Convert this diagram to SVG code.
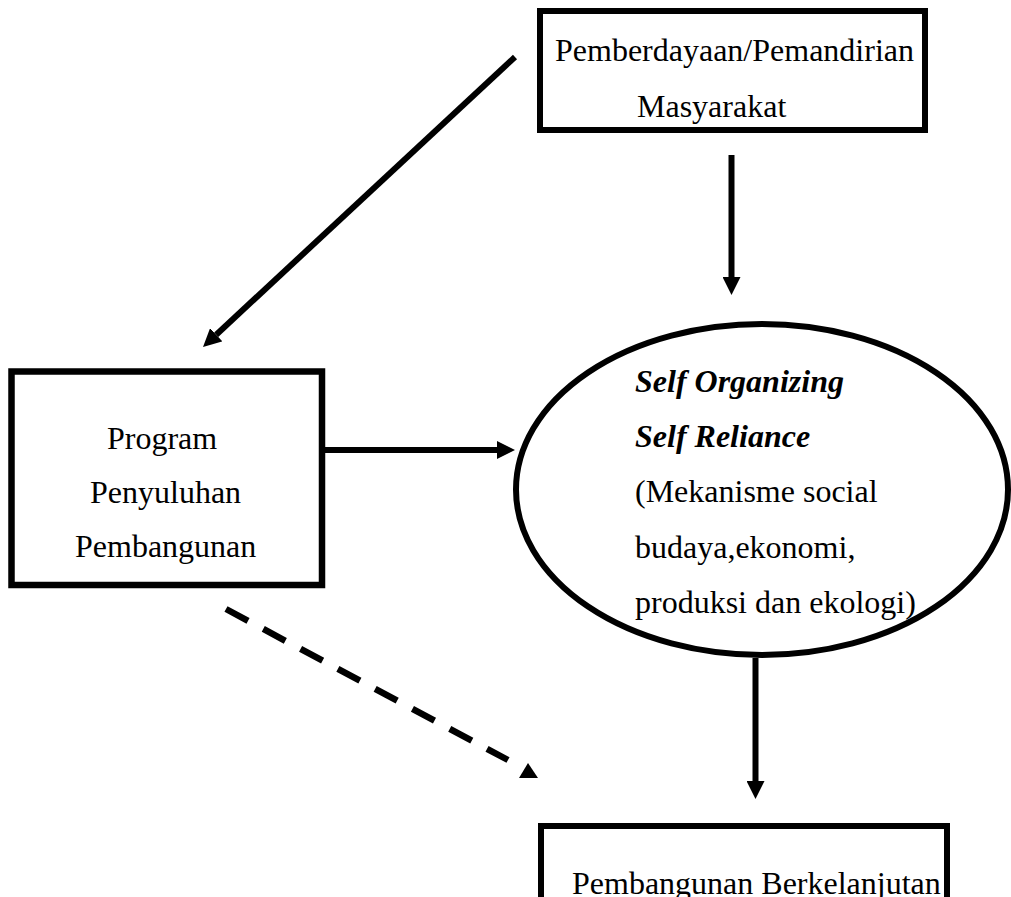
<svg xmlns="http://www.w3.org/2000/svg" width="1011" height="897" viewBox="0 0 1011 897">
<style>
.box{fill:#fff;stroke:#000;stroke-width:6}
.t{font-family:"Liberation Serif","Times New Roman",serif;font-size:32px;fill:#000}
.bi{font-weight:bold;font-style:italic}
.c{stroke:#000;stroke-width:6;fill:none}
.d{stroke:#000;stroke-width:6.5;fill:none;stroke-dasharray:25 17.3}
</style>
<defs>
<marker id="ah" markerUnits="userSpaceOnUse" markerWidth="18" markerHeight="18" refX="0" refY="9" orient="auto" viewBox="0 0 18 18">
<path d="M0,0 L18,9 L0,18 z" fill="#000"/>
</marker>
</defs>
<rect width="1011" height="897" fill="#fff"/>
<g id="connectors">
<line class="c" x1="515" y1="57" x2="216.2" y2="334.7" marker-end="url(#ah)"/>
<line class="c" x1="731.5" y1="155" x2="731.5" y2="277" marker-end="url(#ah)"/>
<line class="c" x1="322" y1="450" x2="497" y2="450" marker-end="url(#ah)"/>
<line class="c" x1="755.5" y1="658" x2="755.5" y2="781" marker-end="url(#ah)"/>
<line class="d" x1="226" y1="609" x2="508" y2="760"/>
<polygon points="528,763 519,778 538,778" fill="#000"/>
</g>
<g id="node-pemberdayaan">
<rect class="box" x="540" y="11" width="385" height="119"/>
<text class="t" x="555" y="61">Pemberdayaan/Pemandirian</text>
<text class="t" x="637" y="116.5">Masyarakat</text>
</g>
<g id="node-program">
<rect class="box" x="11.5" y="371.5" width="310.5" height="213.5" style="stroke-width:6.5"/>
<text class="t" x="107" y="449">Program</text>
<text class="t" x="90" y="503">Penyuluhan</text>
<text class="t" x="75" y="557">Pembangunan</text>
</g>
<g id="node-self">
<ellipse class="box" cx="762" cy="489.5" rx="246" ry="165.5"/>
<text class="t bi" x="635" y="392">Self Organizing</text>
<text class="t bi" x="635" y="447">Self Reliance</text>
<text class="t" x="635" y="502">(Mekanisme social</text>
<text class="t" x="635" y="558">budaya,ekonomi,</text>
<text class="t" x="635" y="613">produksi dan ekologi)</text>
</g>
<g id="node-pembangunan">
<rect class="box" x="541" y="826" width="406" height="100"/>
<text class="t" x="572" y="894">Pembangunan Berkelanjutan</text>
</g>
</svg>
